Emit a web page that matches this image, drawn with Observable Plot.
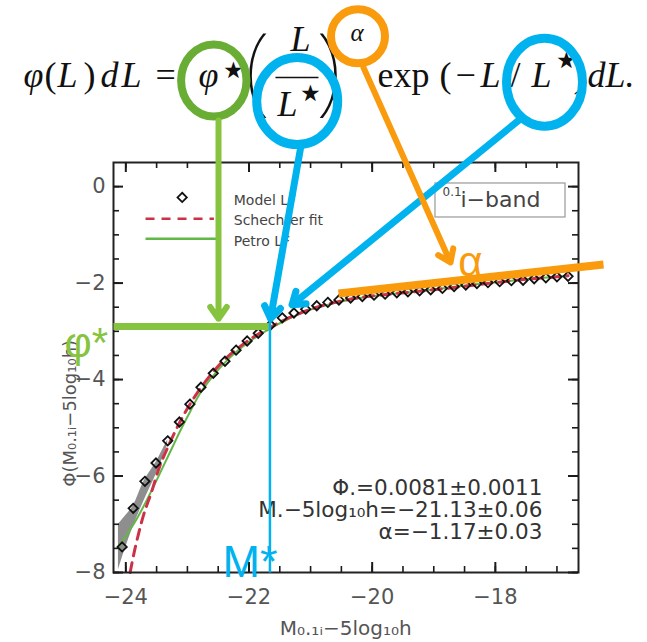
<!DOCTYPE html>
<html>
<head>
<meta charset="utf-8">
<script src="https://cdn.jsdelivr.net/npm/d3@7"></script>
<script src="https://cdn.jsdelivr.net/npm/@observablehq/plot@0.6"></script>
<style>
  html, body { margin: 0; padding: 0; background: #fff; }
  svg { display: block; }
</style>
</head>
<body>
<div id="chart"></div>
<script>
// ---------------- data ----------------
const xMajor = [-24, -22, -20, -18];
const xMinor = [-24, -23.5, -23, -22.5, -22, -21.5, -21, -20.5, -20, -19.5, -19, -18.5, -18, -17.5, -17];
const yMajor = [0, -2, -4, -6, -8];
const yMinor = [0, -0.5, -1, -1.5, -2, -2.5, -3, -3.5, -4, -4.5, -5, -5.5, -6, -6.5, -7, -7.5, -8];

// Model LF (diamonds): magnitude and log10 Phi
const modelM = [-24.06, -23.88, -23.69, -23.51, -23.32, -23.13, -22.96, -22.78, -22.58, -22.39,
                -22.21, -22.03, -21.85, -21.65, -21.46, -21.27, -21.08, -20.90, -20.72, -20.54,
                -20.35, -20.16, -19.97, -19.79, -19.60, -19.42, -19.23, -19.05, -18.86, -18.67,
                -18.48, -18.30, -18.12, -17.93, -17.74, -17.55, -17.37, -17.18, -17.00, -16.82];
const modelPhi = [-7.47, -6.67, -6.11, -5.73, -5.27, -4.88, -4.51, -4.16, -3.87, -3.62,
                  -3.39, -3.20, -3.04, -2.87, -2.72, -2.62, -2.54, -2.47, -2.40, -2.35,
                  -2.31, -2.28, -2.25, -2.23, -2.20, -2.18, -2.16, -2.14, -2.11, -2.07,
                  -2.04, -2.01, -1.99, -1.97, -1.95, -1.94, -1.91, -1.89, -1.87, -1.86];

// Schechter fit (red dashed)
const schM = [-23.93, -23.85, -23.71, -23.59, -23.45, -23.30, -23.15, -23.00, -22.80, -22.60,
              -22.40, -22.20, -22.00, -21.80, -21.60, -21.40, -21.20, -21.00, -20.60, -20.20,
              -19.80, -19.40, -19.00, -18.60, -18.20, -17.80, -17.40, -17.00, -16.82];
const schPhi = [-8.00, -7.50, -6.80, -6.36, -5.80, -5.35, -4.95, -4.60, -4.20, -3.87,
                -3.59, -3.37, -3.18, -3.02, -2.88, -2.75, -2.64, -2.54, -2.40, -2.30,
                -2.24, -2.19, -2.14, -2.08, -2.02, -1.96, -1.91, -1.87, -1.85];

// Petro LF (green)
const petroM = [-24.12, -24.00, -23.85, -23.70, -23.55, -23.40, -23.25, -23.10, -22.95, -22.80,
                -22.60, -22.40, -22.20, -22.00, -21.80, -21.60, -21.40, -21.20, -21.00, -20.60,
                -20.20, -19.80, -19.40, -19.00, -18.60, -18.20, -17.80, -17.40, -17.00, -16.82];
const petroPhi = [-7.48, -7.25, -6.95, -6.60, -6.22, -5.82, -5.42, -5.02, -4.65, -4.30,
                  -3.95, -3.66, -3.42, -3.22, -3.05, -2.90, -2.77, -2.65, -2.55, -2.41,
                  -2.31, -2.24, -2.19, -2.13, -2.07, -2.01, -1.96, -1.91, -1.87, -1.85];

// grey uncertainty band at the bright end
const bandM  = [-24.12, -24.02, -23.88, -23.70, -23.50, -23.32];
const bandHi = [-7.00, -6.85, -6.62, -6.10, -5.70, -5.25];
const bandLo = [-7.95, -7.55, -7.05, -6.50, -5.95, -5.35];

const legendLabels = ["Model LF", "Schechter fit", "Petro LF"];
const paramLines = ["Φ.=0.0081±0.0011", "M.−5log₁₀h=−21.13±0.06", "α=−1.17±0.03"];
const bandLabel = "i−band", bandSup = "0.1";
const xLabel = "M₀.₁ᵢ−5log₁₀h";
const yLabel = "Φ(M₀.₁ᵢ−5log₁₀h)";

// annotation anchors (data units)
const mStar = -21.66, phiStar = -2.90;

// ---------------- layout ----------------
const W = 647, H = 642, mL = 113, mR = 69, mT = 162, mB = 70;
const xDomain = [-24.2, -16.65], yDomain = [-8, 0.5];
const FW = W - mL - mR, FH = H - mT - mB;   // frame size in px

const GREEN_RING = "#69ad35", GREEN = "#86c440", BLUE = "#00b3ef", ORANGE = "#f99b0c", RED = "#cc3147";
const SERIF = "'Liberation Serif', 'DejaVu Serif', serif";
const SANS = "'DejaVu Sans', 'Liberation Sans', sans-serif";
const ARIAL = "'Liberation Sans', Arial, sans-serif";

const model = modelM.map((m, i) => ({m, phi: modelPhi[i]}));
const sch = schM.map((m, i) => ({m, phi: schPhi[i]}));
const petro = petroM.map((m, i) => ({m, phi: petroPhi[i]}));
const band = bandM.map((m, i) => ({m, hi: bandHi[i], lo: bandLo[i]}));

const fmt = d => d < 0 ? "−" + Math.abs(d) : String(d);

// ellipse symbol for the highlight rings
const ellipse = (rx, ry) => ({
  draw(ctx) {
    const c = 0.5523;
    ctx.moveTo(rx, 0);
    ctx.bezierCurveTo(rx, c * ry, c * rx, ry, 0, ry);
    ctx.bezierCurveTo(-c * rx, ry, -rx, c * ry, -rx, 0);
    ctx.bezierCurveTo(-rx, -c * ry, -c * rx, -ry, 0, -ry);
    ctx.bezierCurveTo(c * rx, -ry, rx, -c * ry, rx, 0);
    ctx.closePath();
  }
});
const ring = (cx, cy, rx, ry, color, sw) => Plot.dot([0], {
  frameAnchor: "top-left", dx: cx - mL, dy: cy - mT, r: 1,
  symbol: ellipse(rx, ry), stroke: color, strokeWidth: sw, fill: "none"
});
// equation glyphs, positioned by baseline (pixels in the page)
const glyph = (s, x, base, size, o = {}) => Plot.text([s], {
  text: d => d, frameAnchor: "top-left", dx: x - mL, dy: base - 0.32 * size - mT,
  fontSize: size, textAnchor: "start", lineAnchor: "middle",
  fontFamily: SERIF, fill: "#111", ...o
});
const star = (cx, cy) => glyph("⋆", cx, 0, 46, {textAnchor: "middle", fontFamily: "DejaVu Sans", dx: cx - mL, dy: cy - mT});
const it = {fontStyle: "italic"};
const thin = {textAnchor: "middle", fontFamily: "'Noto Sans', sans-serif", fontWeight: 100};

const equation = [
  glyph("φ", 23, 86, 36, it), glyph("(", 44, 86, 36), glyph("L", 57, 86, 36, it), glyph(")", 83, 86, 36),
  glyph("d", 100, 86, 36, it), glyph("L", 121, 86, 36, it), glyph("=", 155, 86, 36),
  glyph("φ", 198, 86, 36, it), star(233, 70),
  glyph("(", 257, 0, 96, {...thin, dy: 72 - mT}),
  glyph(")", 328, 0, 96, {...thin, dy: 72 - mT}),
  glyph("L", 290, 50, 36, it), glyph("L", 277, 115, 36, it), star(310, 93),
  glyph("α", 350, 40, 25, it),
  glyph("exp", 377, 86, 36), glyph("(", 439, 86, 36), glyph("−", 455, 86, 36),
  glyph("L", 480, 86, 36, it), glyph("/", 510, 86, 36), glyph("L", 531, 86, 36, it),
  star(566, 60),
  glyph(")", 573, 86, 36), glyph("dL.", 587, 86, 36, it)
];

// inward ticks on the four sides: rules across the frame, inset so only `len` px remain
const ink = "#1a1a1a";
const ticksX = (vals, len, sw) => [
  Plot.ruleX(vals, {x: d => d, insetTop: FH - len, stroke: ink, strokeWidth: sw}),
  Plot.ruleX(vals, {x: d => d, insetBottom: FH - len, stroke: ink, strokeWidth: sw})
];
const ticksY = (vals, len, sw) => [
  Plot.ruleY(vals, {y: d => d, insetRight: FW - len, stroke: ink, strokeWidth: sw}),
  Plot.ruleY(vals, {y: d => d, insetLeft: FW - len, stroke: ink, strokeWidth: sw})
];

const chart = Plot.plot({
  width: W, height: H,
  marginLeft: mL, marginRight: mR, marginTop: mT, marginBottom: mB,
  x: {domain: xDomain, label: null},
  y: {domain: yDomain, label: null},
  style: {fontFamily: SANS, fontSize: "14px", background: "#fff", overflow: "visible"},
  marks: [
    // data
    Plot.areaY(band, {x: "m", y1: "lo", y2: "hi", fill: "#8e8e8e", curve: "catmull-rom"}),
    Plot.line(petro, {x: "m", y: "phi", stroke: "#62b846", strokeWidth: 2, curve: "catmull-rom"}),
    Plot.line(sch, {x: "m", y: "phi", stroke: RED, strokeWidth: 3, strokeDasharray: "10,7", curve: "catmull-rom"}),
    Plot.dot(model, {x: "m", y: "phi", symbol: "diamond2", r: 4.2, stroke: "#111", strokeWidth: 1.8, fill: "none"}),

    // frame, ticks and tick labels
    Plot.frame({stroke: "#222", strokeWidth: 2}),
    ...ticksX(xMajor, 10, 2), ...ticksX(xMinor, 6, 1.6),
    ...ticksY(yMajor, 10, 2), ...ticksY(yMinor, 6, 1.6),
    Plot.axisX({anchor: "bottom", ticks: xMajor, tickSize: 0, tickPadding: 17, tickFormat: fmt, fontSize: 21, color: "#555", label: null}),
    Plot.axisY({anchor: "left", ticks: yMajor, tickSize: 0, tickPadding: 8, tickFormat: fmt, fontSize: 21, color: "#555", label: null}),

    // axis titles
    Plot.text([xLabel], {text: d => d, x: -20.43, y: -9.16, fontSize: 20, fill: "#555"}),
    Plot.text([yLabel], {text: d => d, x: -24.9, y: -4.7, rotate: -90, fontSize: 18, fill: "#555"}),

    // legend
    Plot.dot([0], {x: -23.085, y: -0.224, symbol: "diamond2", r: 4.2, stroke: "#111", strokeWidth: 1.8}),
    Plot.link([0], {x1: -23.68, x2: -22.57, y1: -0.667, y2: -0.667, stroke: RED, strokeWidth: 2.5, strokeDasharray: "9,7"}),
    Plot.link([0], {x1: -23.68, x2: -22.5, y1: -1.082, y2: -1.082, stroke: "#62b846", strokeWidth: 2.5}),
    Plot.text([legendLabels.join("\n")], {text: d => d, x: -22.247, y: -0.667, textAnchor: "start", lineHeight: 1.45, fontSize: 14, fill: "#444"}),

    // band box
    Plot.rect([0], {x1: -18.972, x2: -16.861, y1: 0.065, y2: -0.64, fill: "none", stroke: "#999", strokeWidth: 1.2}),
    Plot.text([bandSup], {text: d => d, x: -18.858, y: -0.122, textAnchor: "start", fontSize: 12, fill: "#444"}),
    Plot.text([bandLabel], {text: d => d, x: -18.566, y: -0.273, textAnchor: "start", fontSize: 22, fill: "#444"}),

    // fit parameters
    Plot.text([paramLines.join("\n")], {text: d => d, x: -17.235, y: -6.712, textAnchor: "end", lineHeight: 1.02, fontSize: 21.5, fill: "#333"}),

    // equation
    ...equation,
    Plot.link([0], {x1: -21.57, x2: -20.872, y1: 2.262, y2: 2.262, stroke: "#111", strokeWidth: 1.5}),

    // highlight rings
    ring(213.3, 80, 32.7, 36, GREEN_RING, 8),
    ring(296.7, 100.6, 40.5, 43.5, BLUE, 9),
    ring(357.5, 35.8, 27, 27, ORANGE, 8),
    ring(544, 81.7, 38, 44, BLUE, 9),

    // phi* annotation
    Plot.link([0], {x1: xDomain[0], x2: mStar, y1: phiStar, y2: phiStar, stroke: GREEN, strokeWidth: 7}),
    Plot.arrow([0], {x1: -22.495, y1: 1.37, x2: -22.495, y2: -2.74, stroke: GREEN, strokeWidth: 6, headLength: 3.6, headAngle: 70}),
    Plot.text(["φ*"], {text: d => d, x: -24.996, y: -3.25, textAnchor: "start", fontSize: 42, fontFamily: ARIAL, fill: GREEN}),

    // M* annotation
    Plot.link([0], {x1: mStar, x2: mStar, y1: -2.74, y2: yDomain[0], stroke: BLUE, strokeWidth: 2.5}),
    Plot.arrow([0], {x1: -21.164, y1: 0.79, x2: -21.65, y2: -2.733, stroke: BLUE, strokeWidth: 7, headLength: 3, headAngle: 70}),
    Plot.arrow([0], {x1: -17.624, y1: 1.37, x2: -21.30, y2: -2.45, stroke: BLUE, strokeWidth: 7, headLength: 3, headAngle: 70}),
    Plot.text(["M*"], {text: d => d, x: -22.43, y: -7.80, textAnchor: "start", fontSize: 45, fontFamily: ARIAL, fill: BLUE}),

    // alpha annotation
    Plot.link([0], {x1: -20.547, y1: -2.215, x2: -16.244, y2: -1.614, stroke: ORANGE, strokeWidth: 8}),
    Plot.arrow([0], {x1: -20.141, y1: 2.469, x2: -18.728, y2: -1.573, stroke: ORANGE, strokeWidth: 6, headLength: 3.6, headAngle: 70}),
    Plot.text(["α"], {text: d => d, x: -18.404, y: -1.573, fontSize: 42, fontFamily: ARIAL, fill: ORANGE})
  ]
});
document.getElementById("chart").append(chart);
</script>
</body>
</html>
